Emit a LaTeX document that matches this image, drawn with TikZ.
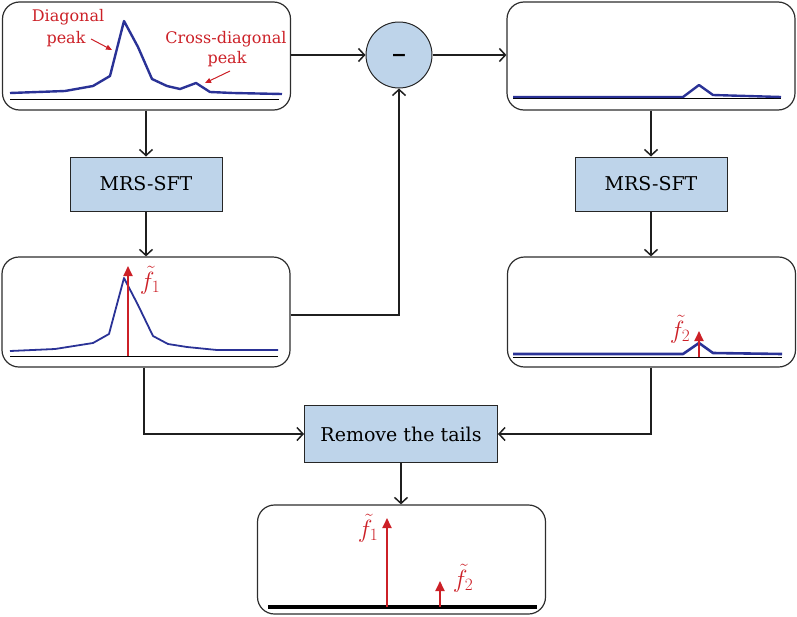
\documentclass[tikz,border=0pt]{standalone}
\usepackage{fontspec}
\setmainfont{DejaVu Serif}
\newfontfamily\opsans{DejaVu Sans}
\usetikzlibrary{arrows.meta}
\definecolor{boxblue}{RGB}{190,212,234}
\definecolor{curveblue}{RGB}{42,50,150}
\definecolor{labred}{RGB}{204,32,39}
\definecolor{framegray}{RGB}{45,45,45}
\begin{document}
\begin{tikzpicture}[x=1pt,y=-1pt,
  panel/.style={draw=framegray,line width=1.2pt,rounded corners=17pt,minimum width=288pt,minimum height=108pt,inner sep=0pt},
  procbox/.style={draw=black!85,line width=1pt,fill=boxblue,inner sep=0pt,font=\fontsize{19}{22}\selectfont},
  conn/.style={draw=black!88,line width=1.5pt,-{Straight Barb[length=6pt,width=13pt,line width=1.5pt]}},
  curve/.style={draw=curveblue,line width=2.4pt,line join=round},
  axis/.style={draw=black,line width=0.9pt},
  redarr/.style={draw=labred,line width=1.8pt,-{Triangle[length=10pt,width=9pt]}},
  lblarr/.style={draw=labred,line width=1pt,-{Triangle[length=6pt,width=5pt]}},
  redlab/.style={text=labred,font=\fontsize{16}{18}\selectfont,inner sep=0pt,align=center},
  mathlab/.style={text=labred,font=\fontsize{23}{25}\selectfont,inner sep=0pt}
]
\useasboundingbox (0,0) rectangle (797,616);

% panels
\node[panel] (p1) at (146.5,56) {};
\node[panel] (p2) at (651,56) {};
\node[panel,minimum height=110pt] (p3) at (146,312) {};
\node[panel,minimum height=110pt] (p4) at (651.5,312) {};
\node[panel,minimum height=109pt] (p5) at (401.5,559.5) {};

% processing nodes
\node[draw=black!85,line width=1pt,fill=boxblue,circle,minimum size=66pt,inner sep=0pt] (minus) at (399,55) {};
\node[anchor=base,inner sep=0pt,font=\fontsize{19}{22}\opsans\bfseries] (minustxt) at ([yshift=-6pt]minus.center) {−};
\node[procbox,minimum width=152pt,minimum height=54pt] (m1) at (146,184) {MRS-SFT};
\node[procbox,minimum width=152pt,minimum height=54pt] (m2) at (651,184) {MRS-SFT};
\node[procbox,minimum width=193pt,minimum height=57pt] (rt) at (401,434) {Remove the tails};

% connectors
\draw[conn] (p1.east |- minus.west) -- (minus.west);
\draw[conn] (minus.east) -- (p2.west |- minus.east);
\draw[conn] (p1.south -| m1.north) -- (m1.north);
\draw[conn] (m1.south) -- (p3.north -| m1.south);
\draw[conn] (p2.south -| m2.north) -- (m2.north);
\draw[conn] (m2.south) -- (p4.north -| m2.south);
\coordinate (j1) at (p3.east |- 0,315);
\draw[conn] (j1) -| (minus.south);
\draw[conn] (p3.south -| 144,0) |- (rt.west);
\draw[conn] (p4.south -| m2.south) |- (rt.east);
\draw[conn] (rt.south) -- (p5.north -| rt.south);

% panel 1 contents
\draw[axis] (10,99) -- (279,99);
\draw[curve] (10,93) -- (65,91) -- (93,86) -- (110,76) -- (124,21) -- (138,47) -- (152,79) -- (167,86) -- (180,89) -- (196,83) -- (210,92) -- (233,93) -- (282,94);
\node[redlab] (dlab) at (68,17) {Diagonal};
\node[redlab] (dpk) at (66,39) {peak};
\node[redlab] (clab) at (226,39) {Cross-diagonal};
\node[redlab] (cpk) at (227,59) {peak};
\draw[lblarr] (91,39) -- (112,50);
\draw[lblarr] (230,71) -- (205,83);

% panel 2 contents
\draw[axis] (513,98) -- (781,98);
\draw[curve] (513,97) -- (683,97) -- (699,85) -- (713,95) -- (781,97);

% panel 3 contents
\draw[axis] (10,356) -- (278,356);
\draw[curve,line width=1.8pt] (10,351) -- (55,349) -- (93,343) -- (109,334) -- (124,278) -- (138,305) -- (153,336) -- (168,344) -- (187,347) -- (217,350) -- (278,350);
\draw[redarr] (128,356) -- (128,266);
\node[mathlab] (f1a) at (150,280) {$\tilde{f}_1$};

% panel 4 contents
\draw[axis] (513,357) -- (782,357);
\draw[curve,line width=2.6pt] (513,354) -- (683,354) -- (699,343) -- (713,353) -- (782,354);
\draw[redarr] (699,357) -- (699,331);
\node[mathlab] (f2a) at (680,329) {$\tilde{f}_2$};

% panel 5 contents
\draw[draw=black,line width=3.5pt] (268,607) -- (537,607);
\draw[redarr] (387,607) -- (387,518);
\node[mathlab] (f1b) at (368,528) {$\tilde{f}_1$};
\draw[redarr] (440,607) -- (440,581);
\node[mathlab] (f2b) at (463,578) {$\tilde{f}_2$};
\end{tikzpicture}
\end{document}
